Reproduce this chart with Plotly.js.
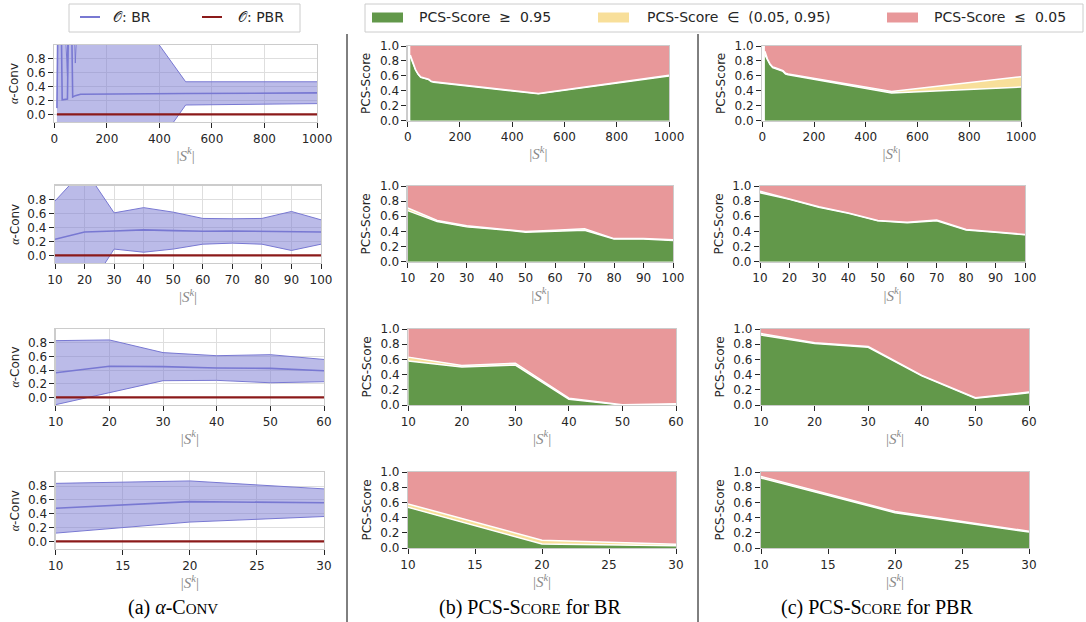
<!DOCTYPE html>
<html><head><meta charset="utf-8">
<script src="https://cdn.plot.ly/plotly-3.0.1.min.js"></script>
<style>html,body{margin:0;padding:0;background:#fff}#chart{width:1086px;height:622px}</style>
</head><body><div id="chart"></div>
<script>
// ---------- data ----------
const sizes1 = [10,20,30,40,50,60,70,80,90,100,500,1000];
const sizes2 = [10,20,30,40,50,60,70,80,90,100];
const sizes3 = [10,20,30,40,50,60];
const sizes4 = [10,20,30];

// (a) alpha-Conv, oracle BR: mean, lower and upper band edge
const brMean1 = [0.09, 3.5, 0.21, 0.21, 0.22, 3.0, 0.25, 0.27, 0.28, 0.29, 0.30, 0.31];
const brHigh1 = [2.59, 9.5, 1.71, 1.41, 0.55, 8.0, 2.25, 0.74, 1.78, 2.58, 0.47, 0.47];
const brLow1  = [-2.41, -2.5, -1.29, -0.99, -0.11, -2.0, -1.75, -0.20, -1.22, -2.0, 0.135, 0.155];
const brMean2 = [0.23, 0.335, 0.35, 0.365, 0.355, 0.345, 0.35, 0.345, 0.35, 0.335];
const brHigh2 = [0.78, 1.24, 0.61, 0.685, 0.62, 0.53, 0.525, 0.53, 0.63, 0.51];
const brLow2  = [-0.32, -0.57, 0.09, 0.045, 0.09, 0.16, 0.175, 0.16, 0.07, 0.16];
const brMean3 = [0.36, 0.455, 0.45, 0.43, 0.425, 0.39];
const brHigh3 = [0.83, 0.84, 0.655, 0.61, 0.625, 0.555];
const brLow3  = [-0.105, 0.07, 0.245, 0.25, 0.215, 0.23];
const brMean4 = [0.48, 0.575, 0.56];
const brHigh4 = [0.84, 0.875, 0.76];
const brLow4  = [0.12, 0.28, 0.36];
// oracle PBR
const pbrMean1 = [0,0,0,0,0,0,0,0,0,0,0,0];
const pbrMean2 = [0,0,0,0,0,0,0,0,0,0];
const pbrMean3 = [0,0,0,0,0,0];
const pbrMean4 = [0,0,0];

// (b) PCS-Score for BR: share >=0.95, in (0.05,0.95), <=0.05
const brPcsHigh1 = [0.86, 0.76, 0.68, 0.62, 0.58, 0.57, 0.565, 0.55, 0.525, 0.515, 0.36, 0.60];
const brPcsMid1  = [0.02, 0.01, 0.005, 0.005, 0.005, 0.005, 0.005, 0.005, 0.005, 0.005, 0.005, 0.01];
const brPcsLow1  = [0.12, 0.23, 0.315, 0.375, 0.415, 0.425, 0.43, 0.445, 0.47, 0.48, 0.635, 0.39];
const brPcsHigh2 = [0.675, 0.53, 0.46, 0.43, 0.39, 0.40, 0.415, 0.30, 0.30, 0.28];
const brPcsMid2  = [0.035, 0.015, 0.015, 0.01, 0.01, 0.015, 0.02, 0.005, 0.005, 0.01];
const brPcsLow2  = [0.29, 0.455, 0.525, 0.56, 0.60, 0.585, 0.565, 0.695, 0.695, 0.71];
const brPcsHigh3 = [0.58, 0.50, 0.525, 0.075, 0.0, 0.005];
const brPcsMid3  = [0.05, 0.02, 0.025, 0.015, 0.003, 0.01];
const brPcsLow3  = [0.37, 0.48, 0.45, 0.91, 0.997, 0.985];
const brPcsHigh4 = [0.535, 0.053, 0.03];
const brPcsMid4  = [0.045, 0.05, 0.02];
const brPcsLow4  = [0.42, 0.897, 0.95];

// (c) PCS-Score for PBR
const pbrPcsHigh1 = [0.88, 0.81, 0.75, 0.71, 0.70, 0.69, 0.68, 0.66, 0.625, 0.615, 0.37, 0.45];
const pbrPcsMid1  = [0.05, 0.015, 0.01, 0.01, 0.01, 0.01, 0.01, 0.01, 0.01, 0.01, 0.02, 0.14];
const pbrPcsLow1  = [0.07, 0.175, 0.24, 0.28, 0.29, 0.30, 0.31, 0.33, 0.365, 0.375, 0.61, 0.41];
const pbrPcsHigh2 = [0.91, 0.825, 0.72, 0.64, 0.54, 0.515, 0.54, 0.42, 0.39, 0.355];
const pbrPcsMid2  = [0.02, 0.005, 0.005, 0.005, 0.005, 0.005, 0.01, 0.005, 0.005, 0.005];
const pbrPcsLow2  = [0.07, 0.17, 0.275, 0.355, 0.455, 0.48, 0.45, 0.575, 0.605, 0.64];
const pbrPcsHigh3 = [0.92, 0.81, 0.76, 0.385, 0.09, 0.16];
const pbrPcsMid3  = [0.02, 0.01, 0.01, 0.005, 0.005, 0.01];
const pbrPcsLow3  = [0.06, 0.18, 0.23, 0.61, 0.905, 0.83];
const pbrPcsHigh4 = [0.92, 0.465, 0.21];
const pbrPcsMid4  = [0.02, 0.015, 0.01];
const pbrPcsLow4  = [0.06, 0.52, 0.78];

// tick labels
const alphaTicks = [0, 0.2, 0.4, 0.6, 0.8];
const pcsTicks = [0, 0.2, 0.4, 0.6, 0.8, 1.0];
const xTickStep = [200, 10, 10, 5];

// ---------- layout helpers ----------
const W = 1086, H = 622;
const px = v => v / W;
const py = v => 1 - v / H;
const BR = 'rgb(120,120,210)';
const BRFILL = 'rgba(120,120,210,0.5)';
const PBR = '#8b1a1a';
const GREEN = '#62984a', YELLOW = '#f8df9a', PINK = '#e8989a';
const TICKFONT = {family: 'DejaVu Sans', size: 12, color: '#262626'};

const sizes = [sizes1, sizes2, sizes3, sizes4];
const brMean = [brMean1, brMean2, brMean3, brMean4];
const brHigh = [brHigh1, brHigh2, brHigh3, brHigh4];
const brLow = [brLow1, brLow2, brLow3, brLow4];
const pbrMean = [pbrMean1, pbrMean2, pbrMean3, pbrMean4];
const pcs = [
  [[brPcsHigh1, brPcsMid1, brPcsLow1], [brPcsHigh2, brPcsMid2, brPcsLow2], [brPcsHigh3, brPcsMid3, brPcsLow3], [brPcsHigh4, brPcsMid4, brPcsLow4]],
  [[pbrPcsHigh1, pbrPcsMid1, pbrPcsLow1], [pbrPcsHigh2, pbrPcsMid2, pbrPcsLow2], [pbrPcsHigh3, pbrPcsMid3, pbrPcsLow3], [pbrPcsHigh4, pbrPcsMid4, pbrPcsLow4]]
];
const xRanges = [[0, 1000], [10, 100], [10, 60], [10, 30]];

const rowY_A = [[45,122],[185.7,263],[329,405],[472.3,549]];
const rowY_BC = [[46,120.7],[186,261.7],[329,405],[472,548]];
const colX = [
  [[54.3,317],[55,321],[55.7,324],[55.7,324]],
  [[407.7,669],[407.7,673],[408.3,676],[408,676]],
  [[762.3,1021],[760,1025],[761,1029],[761,1029]]
];

const traces = [];
const layout = {
  width: W, height: H, margin: {l:0, r:0, t:0, b:0},
  paper_bgcolor: '#fff', plot_bgcolor: '#fff',
  showlegend: false, hovermode: false,
  annotations: [], shapes: []
};

for (let r = 0; r < 4; r++) {
  for (let c = 0; c < 3; c++) {
    const i = r * 3 + c + 1;
    const xa = i === 1 ? 'x' : 'x' + i, ya = i === 1 ? 'y' : 'y' + i;
    const xk = i === 1 ? 'xaxis' : 'xaxis' + i, yk = i === 1 ? 'yaxis' : 'yaxis' + i;
    const yd = c === 0 ? rowY_A[r] : rowY_BC[r];
    const xd = colX[c][r];
    layout[xk] = {
      domain: [px(xd[0]), px(xd[1])], anchor: ya, range: xRanges[r],
      dtick: xTickStep[r], tick0: 0, ticks: 'outside', ticklen: 5, tickwidth: 1, tickcolor: '#262626',
      showline: true, mirror: true, linecolor: '#cccccc', linewidth: 1.25,
      showgrid: c === 0, gridcolor: '#dedede', gridwidth: 1, zeroline: false,
      tickfont: TICKFONT, fixedrange: true, automargin: false,
      title: {text: '|<i>S</i><sup><i>k</i></sup>|', standoff: 5,
              font: {family: 'Liberation Serif', size: 15, color: '#8a8a8a'}}
    };
    layout[yk] = {
      domain: [py(yd[1]), py(yd[0])], anchor: xa,
      range: c === 0 ? [-0.11, 1.0] : [0, 1],
      tickvals: c === 0 ? alphaTicks : pcsTicks, tickformat: '.1f',
      ticks: 'outside', ticklen: 5, tickwidth: 1, tickcolor: '#262626',
      showline: true, mirror: true, linecolor: '#cccccc', linewidth: 1.25,
      showgrid: c === 0, gridcolor: '#dedede', gridwidth: 1, zeroline: false,
      tickfont: TICKFONT, fixedrange: true, automargin: false,
      title: {text: c === 0 ? '<span style="font-family:Liberation Serif"><i>α</i></span>-Conv' : 'PCS-Score',
              standoff: c === 0 ? 5 : 6,
              font: {family: 'DejaVu Sans', size: 12, color: '#262626'}}
    };
    const xs = sizes[r];
    if (c === 0) {
      traces.push({x: xs, y: brLow[r], xaxis: xa, yaxis: ya, mode: 'lines', line: {color: BR, width: 1}});
      traces.push({x: xs, y: brHigh[r], xaxis: xa, yaxis: ya, mode: 'lines', fill: 'tonexty', fillcolor: BRFILL, line: {color: BR, width: 1}});
      traces.push({x: xs, y: brMean[r], xaxis: xa, yaxis: ya, mode: 'lines', line: {color: BR, width: 1.6}});
      traces.push({x: xs, y: pbrMean[r], xaxis: xa, yaxis: ya, mode: 'lines', line: {color: PBR, width: 2.2}});
    } else {
      const [hi, mid, lo] = pcs[c - 1][r];
      const sg = 'sg' + i;
      traces.push({x: xs, y: hi, xaxis: xa, yaxis: ya, mode: 'lines', stackgroup: sg, fillcolor: GREEN, line: {color: '#ffffff', width: 1.5}});
      traces.push({x: xs, y: mid, xaxis: xa, yaxis: ya, mode: 'lines', stackgroup: sg, fillcolor: YELLOW, line: {color: '#ffffff', width: 1.5}});
      traces.push({x: xs, y: lo, xaxis: xa, yaxis: ya, mode: 'lines', stackgroup: sg, fillcolor: PINK, line: {color: PINK, width: 0}});
    }
  }
}

// separators
layout.shapes.push({type: 'line', xref: 'paper', yref: 'paper', x0: px(347), x1: px(347), y0: py(34), y1: 0, line: {color: '#000', width: 1}});
layout.shapes.push({type: 'line', xref: 'paper', yref: 'paper', x0: px(698), x1: px(698), y0: py(34), y1: 0, line: {color: '#000', width: 1}});

// legend (a)
layout.shapes.push({type: 'rect', xref: 'paper', yref: 'paper', x0: px(69), x1: px(300), y0: py(32), y1: py(4), line: {color: '#cccccc', width: 1}, fillcolor: '#fff'});
layout.shapes.push({type: 'line', xref: 'paper', yref: 'paper', x0: px(80), x1: px(100), y0: py(17), y1: py(17), line: {color: BR, width: 2}});
layout.shapes.push({type: 'line', xref: 'paper', yref: 'paper', x0: px(202), x1: px(222), y0: py(17), y1: py(17), line: {color: PBR, width: 2}});
const legFont = {family: 'DejaVu Sans', size: 14, color: '#262626'};
layout.annotations.push({xref: 'paper', yref: 'paper', x: px(111), y: py(17.5), xanchor: 'left', yanchor: 'middle', showarrow: false, text: '𝒪: BR', font: legFont});
layout.annotations.push({xref: 'paper', yref: 'paper', x: px(236), y: py(17.5), xanchor: 'left', yanchor: 'middle', showarrow: false, text: '𝒪: PBR', font: legFont});

// legend (b)/(c)
layout.shapes.push({type: 'rect', xref: 'paper', yref: 'paper', x0: px(365), x1: px(1083), y0: py(32), y1: py(4), line: {color: '#cccccc', width: 1}, fillcolor: '#fff'});
const legPatches = [[372, GREEN, 417, 'PCS-Score  ≥  0.95'], [598, YELLOW, 645, 'PCS-Score  ∈  (0.05, 0.95)'], [887, PINK, 932, 'PCS-Score  ≤  0.05']];
legPatches.forEach(([x0, col, tx, t]) => {
  layout.shapes.push({type: 'rect', xref: 'paper', yref: 'paper', x0: px(x0), x1: px(x0 + 31), y0: py(22.5), y1: py(12.5), line: {width: 0}, fillcolor: col});
  layout.annotations.push({xref: 'paper', yref: 'paper', x: px(tx), y: py(17.5), xanchor: 'left', yanchor: 'middle', showarrow: false, text: t, font: legFont});
});

// captions
const capFont = {family: 'Liberation Serif', size: 20, color: '#000'};
const sc = s => '<span style="font-size:15px">' + s + '</span>';
layout.annotations.push({xref: 'paper', yref: 'paper', x: px(173), y: py(607), xanchor: 'center', yanchor: 'middle', showarrow: false, text: '(a) <i>α</i>-C' + sc('ONV'), font: capFont});
layout.annotations.push({xref: 'paper', yref: 'paper', x: px(530), y: py(607), xanchor: 'center', yanchor: 'middle', showarrow: false, text: '(b) PCS-S' + sc('CORE') + ' for BR', font: capFont});
layout.annotations.push({xref: 'paper', yref: 'paper', x: px(877), y: py(607), xanchor: 'center', yanchor: 'middle', showarrow: false, text: '(c) PCS-S' + sc('CORE') + ' for PBR', font: capFont});

traces.forEach(t => { t.showlegend = false; t.hoverinfo = 'skip'; });
Plotly.newPlot('chart', traces, layout, {staticPlot: true, displayModeBar: false});
</script></body></html>
